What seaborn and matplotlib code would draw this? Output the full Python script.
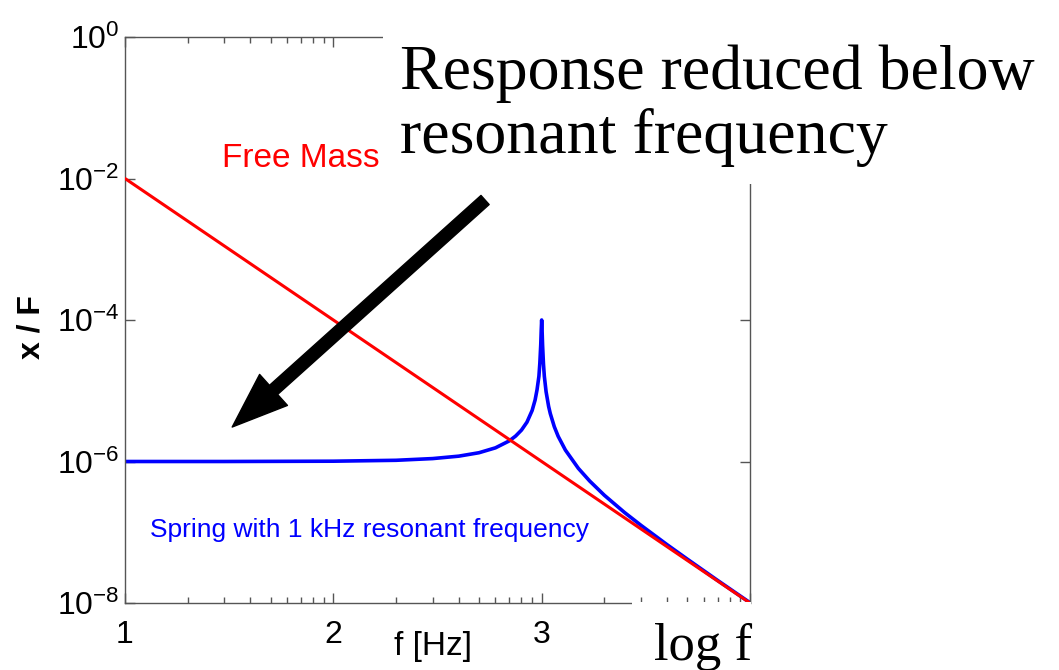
import matplotlib
matplotlib.use("Agg")
import matplotlib.pyplot as plt
import matplotlib.ticker as mticker
from matplotlib.patches import Rectangle
import seaborn as sns
import pandas as pd

# ---- data ----
free_f = [10, 10000]
free_x = [1e-2, 1e-8]

spring_f = [10, 30, 100, 200, 300, 400, 500, 600, 700, 750, 800, 850, 900, 930, 950,
            970, 980, 990, 995, 1000, 1005, 1010, 1020, 1030, 1050, 1080, 1100, 1150,
            1200, 1300, 1500, 1700, 2000, 2500, 3000, 4000, 5000, 7000, 10000]
spring_x = [1.0e-6, 1.0e-6, 1.01e-6, 1.04e-6, 1.10e-6, 1.19e-6, 1.33e-6, 1.56e-6, 1.96e-6,
            2.29e-6, 2.78e-6, 3.6e-6, 5.26e-6, 7.4e-6, 1.03e-5, 1.6e-5, 2.45e-5, 4.5e-5,
            7.1e-5, 1.0e-4, 7.0e-5, 4.45e-5, 2.4e-5, 1.6e-5, 9.7e-6, 6.0e-6, 4.76e-6,
            3.1e-6, 2.27e-6, 1.45e-6, 8.0e-7, 5.3e-7, 3.33e-7, 1.9e-7, 1.25e-7, 6.67e-8,
            4.17e-8, 2.08e-8, 1.01e-8]

xtick_vals = [10, 100, 1000, 10000]
xtick_labels = ["1", "2", "3", ""]
ytick_vals = [1e-8, 1e-6, 1e-4, 1e-2, 1e0]

sns.set_style("ticks")
plt.rcParams["font.family"] = ["Liberation Sans", "DejaVu Sans"]
plt.rcParams["mathtext.default"] = "regular"
plt.rcParams["text.color"] = "black"
plt.rcParams["axes.labelcolor"] = "black"

fig = plt.figure(figsize=(10.59, 6.70), dpi=100)
ax = fig.add_axes([125 / 1059, 1 - 603 / 670, 625 / 1059, (603 - 37) / 670])

df_free = pd.DataFrame({"f": free_f, "x": free_x})
df_spring = pd.DataFrame({"f": spring_f, "x": spring_x})
sns.lineplot(data=df_spring, x="f", y="x", color="#0000ff", lw=2.6, ax=ax, zorder=2)
sns.lineplot(data=df_free, x="f", y="x", color="#ff0000", lw=2.2, ax=ax, zorder=3)

ax.set_xscale("log")
ax.set_yscale("log")
ax.set_xlim(10, 10000)
ax.set_ylim(1e-8, 1)

ax.set_xticks(xtick_vals)
ax.set_xticklabels(xtick_labels)
ax.xaxis.set_minor_locator(mticker.LogLocator(base=10, subs=range(2, 10), numticks=20))
ax.xaxis.set_minor_formatter(mticker.NullFormatter())
ax.set_yticks(ytick_vals)
ax.yaxis.set_major_formatter(mticker.LogFormatterSciNotation())
ax.yaxis.set_minor_locator(mticker.NullLocator())

for s in ax.spines.values():
    s.set_color("#555555")
    s.set_linewidth(1.0)
ax.tick_params(which="both", direction="in", top=True, right=True, colors="#555555",
               labelcolor="black", labelsize=23)
ax.tick_params(which="major", length=7, width=1)
ax.tick_params(which="minor", length=4, width=1)
ax.tick_params(axis="x", pad=12)
ax.tick_params(axis="y", pad=4)

ax.set_xlabel("f [Hz]", fontsize=24)
ax.xaxis.set_label_coords((433 - 125) / 625, -(647 - 603) / 566)
ax.xaxis.label.set_va("center")
ax.set_ylabel("x / F", fontsize=23, fontweight="bold")
ax.yaxis.set_label_coords(-(125 - 31) / 625, (603 - 327) / 566)
ax.yaxis.label.set_va("center")

ax.text((222 - 125) / 625, (603 - 167) / 566, "Free Mass", transform=ax.transAxes,
        color="#ff0000", fontsize=24, ha="left", va="baseline")
ax.text((150 - 125) / 625, (603 - 537) / 566, "Spring with 1 kHz resonant frequency",
        transform=ax.transAxes, color="#0000ff", fontsize=19, ha="left", va="baseline")

ax.annotate("", xy=(32.7, 3.07e-6), xytext=(535, 4.97e-3),
            arrowprops=dict(arrowstyle="simple,head_width=3.0,head_length=4.0,tail_width=0.88",
                            color="black", shrinkA=0, shrinkB=0, mutation_scale=10),
            zorder=5)

fig.text(400 / 1059, 1 - 106 / 670, "Response reduced below\nresonant frequency",
         fontsize=46, family=["Liberation Serif", "DejaVu Serif"], ha="left", va="center",
         linespacing=1.12, color="black",
         bbox=dict(facecolor="white", edgecolor="none", pad=12), zorder=10)

# white patch that hides the bottom spine under the "log f" label
ax.add_patch(Rectangle(((632 - 125) / 625, -0.012), 1 - (632 - 125) / 625 + 0.002, 0.0135,
                       transform=ax.transAxes, facecolor="white", edgecolor="none",
                       clip_on=False, zorder=10))
fig.text(703 / 1059, 1 - 647 / 670, "log f", fontsize=38, color="black",
         family=["Liberation Serif", "DejaVu Serif"], ha="center", va="center")

fig.savefig("out.png", dpi=100, facecolor="white")
